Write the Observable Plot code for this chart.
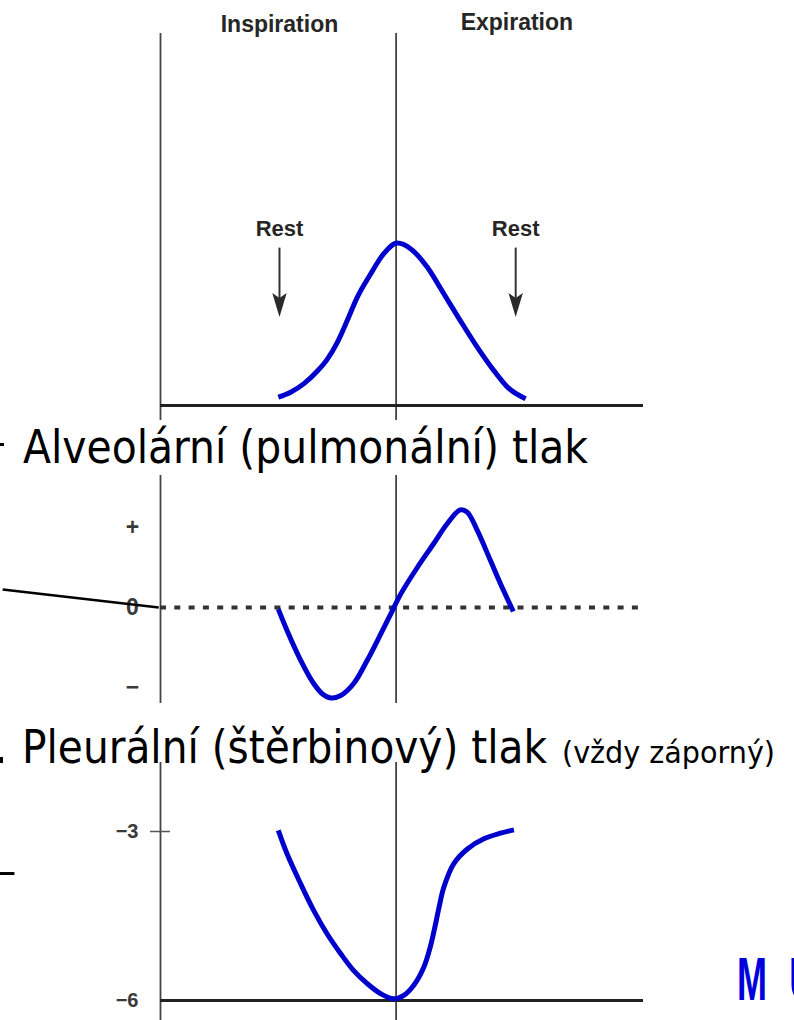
<!DOCTYPE html>
<html>
<head>
<meta charset="utf-8">
<script src="https://cdn.jsdelivr.net/npm/d3@7"></script>
<script src="https://cdn.jsdelivr.net/npm/@observablehq/plot@0.6"></script>
<style>
  html, body { margin: 0; padding: 0; background: #fff; }
  #chart { position: relative; width: 794px; height: 1020px; overflow: hidden; background: #fff; }
  #chart > svg { position: absolute; left: 0; }
</style>
</head>
<body>
<div id="chart"></div>
<script>
// ---------- DATA ----------
// Lung volume change (L) over one breath, time in seconds
const volumeTime  = [0, 0.21, 0.43, 0.66, 0.83, 1.0, 1.17, 1.34, 1.57, 1.79, 2.02, 2.25, 2.53, 2.81, 3.09, 3.38, 3.66, 3.89, 4.2];
const volumeValue = [0.026, 0.041, 0.067, 0.106, 0.143, 0.195, 0.263, 0.335, 0.408, 0.47, 0.503, 0.485, 0.428, 0.346, 0.263, 0.18, 0.108, 0.057, 0.021];

// Alveolar (pulmonary) pressure, relative units
const alveolarTime  = [0, 0.15, 0.38, 0.6, 0.75, 0.89, 1.06, 1.28, 1.51, 1.74, 1.91, 2.08, 2.36, 2.64, 2.87, 3.09, 3.21, 3.38, 3.6, 3.77, 3.99];
const alveolarValue = [-0.02, -0.29, -0.66, -0.95, -1.08, -1.13, -1.1, -0.95, -0.66, -0.33, -0.08, 0.17, 0.5, 0.8, 1.05, 1.22, 1.19, 0.96, 0.59, 0.3, -0.05];

// Pleural (intrapleural) pressure, cm H2O
const pleuralTime  = [0, 0.15, 0.38, 0.6, 0.83, 1.06, 1.28, 1.51, 1.74, 1.96, 2.13, 2.3, 2.47, 2.58, 2.67, 2.73, 2.81, 2.98, 3.21, 3.49, 3.77, 4.0];
const pleuralValue = [-2.98, -3.4, -3.93, -4.4, -4.82, -5.17, -5.47, -5.7, -5.88, -5.97, -5.91, -5.73, -5.41, -5.05, -4.64, -4.34, -3.99, -3.57, -3.31, -3.13, -3.03, -2.97];

// Labels
const phaseLabels = ["Inspiration", "Expiration"];
const phaseTime = [0.02, 4.05];
const restTime = [0.02, 4.03];
const restLabel = "Rest";
const alveolarTicks = [1, 0, -1];
const alveolarTickLabels = ["+", "0", "−"];
const pleuralTicks = [-3, -6];
const pleuralTickLabels = ["−3", "−6"];
const titleAlveolar = "Alveolární (pulmonální) tlak";
const titlePleural = "Pleurální (štěrbinový) tlak";
const noteLabel = "(vždy záporný)";
const logoLetters = ["M", "U"];

// Annotation pointer lines (data units of their panels)
const alveolarPointer = [{x1: -4.68, y1: 0.225, x2: -2.03, y2: 0}];
const pleuralPointer = [{x1: -4.75, y1: -3.746, x2: -4.48, y2: -3.746}];

// ---------- BUILD ----------
const zip = (a, b, k1, k2) => a.map((d, i) => ({[k1]: d, [k2]: b[i]}));
const volumeData = zip(volumeTime, volumeValue, "t", "v");
const alveolarData = zip(alveolarTime, alveolarValue, "t", "p");
const pleuralData = zip(pleuralTime, pleuralValue, "t", "p");

const BLUE = "#0000cc";
const AXIS = "#444";
const chartEl = document.getElementById("chart");

// barbed, downward-pointing arrowhead symbol
const arrowHead = {
  draw(ctx, size) {
    const r = Math.sqrt(size / Math.PI);
    ctx.moveTo(0, 2 * r);
    ctx.lineTo(-1.2 * r, -2 * r);
    ctx.lineTo(0, -1.2 * r);
    ctx.lineTo(1.2 * r, -2 * r);
    ctx.closePath();
  }
};

function panel(opts) {
  return Plot.plot({
    width: 794,
    height: opts.height,
    marginLeft: 160,
    marginRight: 151,
    marginTop: opts.marginTop,
    marginBottom: opts.marginBottom,
    x: {domain: [-2, 6.2], axis: null},
    y: {domain: opts.yDomain, axis: null},
    style: {background: "transparent", overflow: "visible", fontFamily: "'Liberation Sans', Arial, sans-serif"},
    marks: opts.marks
  });
}

// Top panel: volume
const volumePanel = panel({
  height: 425, marginTop: 33, marginBottom: 5, yDomain: [-0.0464, 1.152],
  marks: [
    Plot.ruleX([-2, 2], {stroke: AXIS, strokeWidth: 1.8}),
    Plot.ruleY([0], {stroke: "#222", strokeWidth: 2.8}),
    Plot.text(phaseLabels, {x: (d, i) => phaseTime[i], y: (d, i) => [1.158, 1.164][i], text: d => d,
      lineAnchor: "bottom", fontSize: 23, fontWeight: "bold", fill: "#262626"}),
    Plot.text(restTime, {x: d => d, y: 0.526, text: () => restLabel, lineAnchor: "bottom",
      fontSize: 22, fontWeight: "bold", fill: "#262626"}),
    Plot.link(restTime, {x1: d => d, x2: d => d, y1: 0.489, y2: 0.33, stroke: "#333", strokeWidth: 2}),
    Plot.dot(restTime, {x: d => d, y: 0.311, symbol: arrowHead, r: 6, fill: "#2a2a2a", stroke: "none"}),
    Plot.line(volumeData, {x: "t", y: "v", stroke: BLUE, strokeWidth: 5, curve: "monotone-x", strokeLinecap: "butt"})
  ]
});
volumePanel.style.top = "0px";
chartEl.appendChild(volumePanel);

// Middle panel: alveolar pressure
const alveolarPanel = panel({
  height: 240, marginTop: 5, marginBottom: 7, yDomain: [-1.2, 1.65],
  marks: [
    Plot.ruleX([-2, 2], {stroke: AXIS, strokeWidth: 1.8}),
    Plot.ruleY([0], {stroke: "#333", strokeWidth: 4, strokeDasharray: "6,8.3"}),
    Plot.text(alveolarTicks, {x: -2, y: d => d, dx: -28, text: (d, i) => alveolarTickLabels[i],
      textAnchor: "middle", fontSize: 23, fontWeight: "bold", fill: "#3a3a3a"}),
    Plot.link(alveolarPointer, {x1: "x1", y1: "y1", x2: "x2", y2: "y2", stroke: "#000", strokeWidth: 2.5}),
    Plot.line(alveolarData, {x: "t", y: "p", stroke: BLUE, strokeWidth: 5, curve: "catmull-rom", strokeLinecap: "butt"})
  ]
});
alveolarPanel.style.top = "470px";
chartEl.appendChild(alveolarPanel);

// Bottom panel: pleural pressure
const pleuralPanel = panel({
  height: 265, marginTop: 7, marginBottom: 0, yDomain: [-6.355, -1.775],
  marks: [
    Plot.ruleX([-2, 2], {stroke: AXIS, strokeWidth: 1.8}),
    Plot.ruleY([-6], {stroke: "#222", strokeWidth: 3}),
    Plot.axisY({ticks: [-3], tickSize: 20, dx: 10, tickFormat: () => "", stroke: "#555", strokeWidth: 1.5}),
    Plot.text(pleuralTicks, {x: -2, y: d => d, dx: -22, text: (d, i) => pleuralTickLabels[i],
      textAnchor: "end", fontSize: 20, fontWeight: "bold", fill: "#3a3a3a"}),
    Plot.link(pleuralPointer, {x1: "x1", y1: "y1", x2: "x2", y2: "y2", stroke: "#000", strokeWidth: 3}),
    Plot.line(pleuralData, {x: "t", y: "p", stroke: BLUE, strokeWidth: 5, curve: "catmull-rom", strokeLinecap: "butt"})
  ]
});
pleuralPanel.style.top = "755px";
chartEl.appendChild(pleuralPanel);

// Titles overlay
const ov = d3.select(chartEl).append("svg")
  .attr("width", 794).attr("height", 1020)
  .style("position", "absolute").style("left", "0px").style("top", "0px")
  .style("pointer-events", "none");
const FONT = "'DejaVu Sans Condensed', 'DejaVu Sans', sans-serif";
function txt(s, x, y, size, len, fill) {
  const t = ov.append("text").attr("x", x).attr("y", y).attr("font-family", FONT)
    .attr("font-size", size).attr("fill", fill || "#000").text(s);
  if (len) t.attr("textLength", len).attr("lengthAdjust", "spacingAndGlyphs");
  return t;
}
// fragments of cropped bullet marks at the left edge
ov.append("rect").attr("x", 0).attr("y", 443).attr("width", 4).attr("height", 3).attr("fill", "#000");
ov.append("rect").attr("x", 0).attr("y", 757).attr("width", 3).attr("height", 6).attr("fill", "#000");

txt(titleAlveolar, 23, 463, 46, 565);
txt(titlePleural, 22, 763, 46, 525);
txt(noteLabel, 562, 763, 31, 213);
const LOGOFONT = "'Liberation Sans Narrow', 'Liberation Sans', Arial, sans-serif";
txt(logoLetters[0], 737, 1000, 62, 30, "#0000dd").attr("font-family", LOGOFONT).attr("font-weight", "bold");
txt(logoLetters[1], 789, 1000, 62, 30, "#0000dd").attr("font-family", LOGOFONT).attr("font-weight", "bold");
</script>
</body>
</html>
